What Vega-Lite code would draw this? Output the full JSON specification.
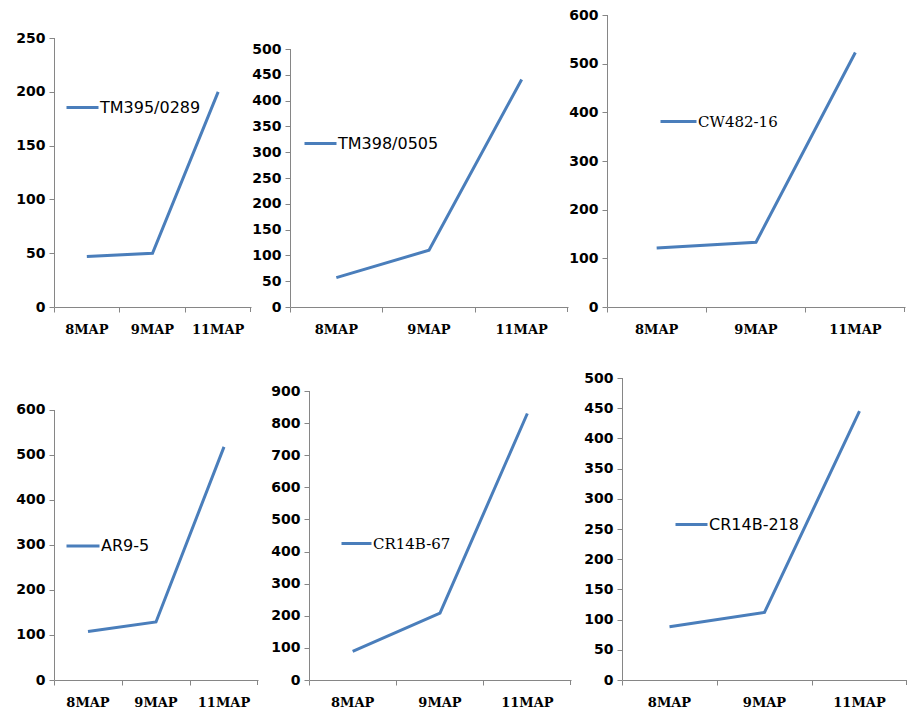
{
  "$schema": "https://vega.github.io/schema/vega-lite/v6.json",
  "padding": {"left": 15, "top": 8, "right": 0, "bottom": 0},
  "background": "#ffffff",
  "data": {"values": [
    {"clone": "TM395/0289", "stage": "8MAP", "value": 47},
    {"clone": "TM395/0289", "stage": "9MAP", "value": 50},
    {"clone": "TM395/0289", "stage": "11MAP", "value": 200},
    {"clone": "TM398/0505", "stage": "8MAP", "value": 57},
    {"clone": "TM398/0505", "stage": "9MAP", "value": 110},
    {"clone": "TM398/0505", "stage": "11MAP", "value": 441},
    {"clone": "CW482-16", "stage": "8MAP", "value": 121},
    {"clone": "CW482-16", "stage": "9MAP", "value": 133},
    {"clone": "CW482-16", "stage": "11MAP", "value": 523},
    {"clone": "AR9-5", "stage": "8MAP", "value": 108},
    {"clone": "AR9-5", "stage": "9MAP", "value": 129},
    {"clone": "AR9-5", "stage": "11MAP", "value": 518},
    {"clone": "CR14B-67", "stage": "8MAP", "value": 89},
    {"clone": "CR14B-67", "stage": "9MAP", "value": 208},
    {"clone": "CR14B-67", "stage": "11MAP", "value": 830},
    {"clone": "CR14B-218", "stage": "8MAP", "value": 88},
    {"clone": "CR14B-218", "stage": "9MAP", "value": 112},
    {"clone": "CR14B-218", "stage": "11MAP", "value": 445}
  ]},
  "spacing": 35,
  "resolve": {"scale": {"x": "independent", "y": "independent", "color": "independent"}, "legend": {"color": "independent"}, "axis": {"x": "independent", "y": "independent"}},
  "vconcat": [
    {
      "spacing": 0,
      "resolve": {"scale": {"x": "independent", "y": "independent", "color": "independent"}, "legend": {"color": "independent"}, "axis": {"x": "independent", "y": "independent"}},
      "hconcat": [
        {
          "width": 197, "height": 292,
          "transform": [{"filter": {"field": "clone", "equal": "TM395/0289"}}],
          "layer": [
            {
              "mark": {"type": "line", "strokeWidth": 3},
              "encoding": {
                "x": {"field": "stage", "type": "nominal", "sort": ["8MAP", "9MAP", "11MAP"], "scale": {"paddingInner": 0, "paddingOuter": 0}, "axis": {"title": null, "bandPosition": 0}},
                "y": {"field": "value", "type": "quantitative", "scale": {"domain": [0, 271.4], "nice": false}, "axis": {"title": null, "domain": false, "values": [0, 50, 100, 150, 200, 250]}},
                "color": {"field": "clone", "type": "nominal", "scale": {"range": ["#4A7EBB"]}, "legend": {"orient": "none", "legendX": 11, "legendY": 75, "title": null, "padding": 0, "symbolType": "stroke", "symbolSize": 1024, "symbolStrokeWidth": 3, "labelFont": "DejaVu Sans", "labelFontSize": 16, "labelOffset": 0, "labelColor": "#000000"}}
              }
            },
            {
              "transform": [{"filter": {"field": "stage", "equal": "8MAP"}}],
              "mark": {"type": "rule", "color": "#868686", "strokeWidth": 1, "xOffset": 0.5},
              "encoding": {
                "x": {"field": "stage", "type": "nominal", "sort": ["8MAP", "9MAP", "11MAP"], "bandPosition": 0, "axis": {"title": null, "bandPosition": 0}},
                "y": {"datum": 0, "type": "quantitative", "axis": {"title": null, "domain": false, "values": [0, 50, 100, 150, 200, 250]}},
                "y2": {"datum": 250}
              }
            },
            {
              "transform": [{"filter": {"field": "stage", "equal": "11MAP"}}],
              "mark": {"type": "rule", "color": "#868686", "strokeWidth": 1, "xOffset": -0.5, "y2Offset": 5},
              "encoding": {
                "x": {"field": "stage", "type": "nominal", "sort": ["8MAP", "9MAP", "11MAP"], "bandPosition": 1, "axis": {"title": null, "bandPosition": 0}},
                "y": {"datum": 0, "type": "quantitative", "axis": {"title": null, "domain": false, "values": [0, 50, 100, 150, 200, 250]}},
                "y2": {"datum": 0}
              }
            }
          ]
        },
        {
          "width": 278, "height": 292,
          "transform": [{"filter": {"field": "clone", "equal": "TM398/0505"}}],
          "layer": [
            {
              "mark": {"type": "line", "strokeWidth": 3},
              "encoding": {
                "x": {"field": "stage", "type": "nominal", "sort": ["8MAP", "9MAP", "11MAP"], "scale": {"paddingInner": 0, "paddingOuter": 0}, "axis": {"title": null, "bandPosition": 0}},
                "y": {"field": "value", "type": "quantitative", "scale": {"domain": [0, 565.9], "nice": false}, "axis": {"title": null, "domain": false, "values": [0, 50, 100, 150, 200, 250, 300, 350, 400, 450, 500]}},
                "color": {"field": "clone", "type": "nominal", "scale": {"range": ["#4A7EBB"]}, "legend": {"orient": "none", "legendX": 13, "legendY": 111, "title": null, "padding": 0, "symbolType": "stroke", "symbolSize": 1024, "symbolStrokeWidth": 3, "labelFont": "DejaVu Sans", "labelFontSize": 16, "labelOffset": 0, "labelColor": "#000000"}}
              }
            },
            {
              "transform": [{"filter": {"field": "stage", "equal": "8MAP"}}],
              "mark": {"type": "rule", "color": "#868686", "strokeWidth": 1, "xOffset": 0.5},
              "encoding": {
                "x": {"field": "stage", "type": "nominal", "sort": ["8MAP", "9MAP", "11MAP"], "bandPosition": 0, "axis": {"title": null, "bandPosition": 0}},
                "y": {"datum": 0, "type": "quantitative", "axis": {"title": null, "domain": false, "values": [0, 50, 100, 150, 200, 250, 300, 350, 400, 450, 500]}},
                "y2": {"datum": 500}
              }
            },
            {
              "transform": [{"filter": {"field": "stage", "equal": "11MAP"}}],
              "mark": {"type": "rule", "color": "#868686", "strokeWidth": 1, "xOffset": -0.5, "y2Offset": 5},
              "encoding": {
                "x": {"field": "stage", "type": "nominal", "sort": ["8MAP", "9MAP", "11MAP"], "bandPosition": 1, "axis": {"title": null, "bandPosition": 0}},
                "y": {"datum": 0, "type": "quantitative", "axis": {"title": null, "domain": false, "values": [0, 50, 100, 150, 200, 250, 300, 350, 400, 450, 500]}},
                "y2": {"datum": 0}
              }
            }
          ]
        },
        {
          "width": 298, "height": 292,
          "transform": [{"filter": {"field": "clone", "equal": "CW482-16"}}],
          "layer": [
            {
              "mark": {"type": "line", "strokeWidth": 3},
              "encoding": {
                "x": {"field": "stage", "type": "nominal", "sort": ["8MAP", "9MAP", "11MAP"], "scale": {"paddingInner": 0, "paddingOuter": 0}, "axis": {"title": null, "bandPosition": 0}},
                "y": {"field": "value", "type": "quantitative", "scale": {"domain": [0, 600], "nice": false}, "axis": {"title": null, "domain": false, "values": [0, 100, 200, 300, 400, 500, 600]}},
                "color": {"field": "clone", "type": "nominal", "scale": {"range": ["#4A7EBB"]}, "legend": {"orient": "none", "legendX": 52, "legendY": 87, "title": null, "padding": 0, "symbolType": "stroke", "symbolSize": 1296, "symbolStrokeWidth": 3, "labelFont": "DejaVu Serif", "labelFontSize": 15, "labelOffset": 0, "labelColor": "#000000"}}
              }
            },
            {
              "transform": [{"filter": {"field": "stage", "equal": "8MAP"}}],
              "mark": {"type": "rule", "color": "#868686", "strokeWidth": 1, "xOffset": 0.5},
              "encoding": {
                "x": {"field": "stage", "type": "nominal", "sort": ["8MAP", "9MAP", "11MAP"], "bandPosition": 0, "axis": {"title": null, "bandPosition": 0}},
                "y": {"datum": 0, "type": "quantitative", "axis": {"title": null, "domain": false, "values": [0, 100, 200, 300, 400, 500, 600]}},
                "y2": {"datum": 600}
              }
            },
            {
              "transform": [{"filter": {"field": "stage", "equal": "11MAP"}}],
              "mark": {"type": "rule", "color": "#868686", "strokeWidth": 1, "xOffset": -0.5, "y2Offset": 5},
              "encoding": {
                "x": {"field": "stage", "type": "nominal", "sort": ["8MAP", "9MAP", "11MAP"], "bandPosition": 1, "axis": {"title": null, "bandPosition": 0}},
                "y": {"datum": 0, "type": "quantitative", "axis": {"title": null, "domain": false, "values": [0, 100, 200, 300, 400, 500, 600]}},
                "y2": {"datum": 0}
              }
            }
          ]
        }
      ]
    },
    {
      "spacing": 12,
      "resolve": {"scale": {"x": "independent", "y": "independent", "color": "independent"}, "legend": {"color": "independent"}, "axis": {"x": "independent", "y": "independent"}},
      "hconcat": [
        {
          "width": 204, "height": 302,
          "transform": [{"filter": {"field": "clone", "equal": "AR9-5"}}],
          "layer": [
            {
              "mark": {"type": "line", "strokeWidth": 3},
              "encoding": {
                "x": {"field": "stage", "type": "nominal", "sort": ["8MAP", "9MAP", "11MAP"], "scale": {"paddingInner": 0, "paddingOuter": 0}, "axis": {"title": null, "bandPosition": 0}},
                "y": {"field": "value", "type": "quantitative", "scale": {"domain": [0, 671.1], "nice": false}, "axis": {"title": null, "domain": false, "values": [0, 100, 200, 300, 400, 500, 600]}},
                "color": {"field": "clone", "type": "nominal", "scale": {"range": ["#4A7EBB"]}, "legend": {"orient": "none", "legendX": 11, "legendY": 150, "title": null, "padding": 0, "symbolType": "stroke", "symbolSize": 1089, "symbolStrokeWidth": 3, "labelFont": "DejaVu Sans", "labelFontSize": 16, "labelOffset": 0, "labelColor": "#000000"}}
              }
            },
            {
              "transform": [{"filter": {"field": "stage", "equal": "8MAP"}}],
              "mark": {"type": "rule", "color": "#868686", "strokeWidth": 1, "xOffset": 0.5},
              "encoding": {
                "x": {"field": "stage", "type": "nominal", "sort": ["8MAP", "9MAP", "11MAP"], "bandPosition": 0, "axis": {"title": null, "bandPosition": 0}},
                "y": {"datum": 0, "type": "quantitative", "axis": {"title": null, "domain": false, "values": [0, 100, 200, 300, 400, 500, 600]}},
                "y2": {"datum": 600}
              }
            },
            {
              "transform": [{"filter": {"field": "stage", "equal": "11MAP"}}],
              "mark": {"type": "rule", "color": "#868686", "strokeWidth": 1, "xOffset": -0.5, "y2Offset": 5},
              "encoding": {
                "x": {"field": "stage", "type": "nominal", "sort": ["8MAP", "9MAP", "11MAP"], "bandPosition": 1, "axis": {"title": null, "bandPosition": 0}},
                "y": {"datum": 0, "type": "quantitative", "axis": {"title": null, "domain": false, "values": [0, 100, 200, 300, 400, 500, 600]}},
                "y2": {"datum": 0}
              }
            }
          ]
        },
        {
          "width": 262, "height": 302,
          "transform": [{"filter": {"field": "clone", "equal": "CR14B-67"}}],
          "layer": [
            {
              "mark": {"type": "line", "strokeWidth": 3},
              "encoding": {
                "x": {"field": "stage", "type": "nominal", "sort": ["8MAP", "9MAP", "11MAP"], "scale": {"paddingInner": 0, "paddingOuter": 0}, "axis": {"title": null, "bandPosition": 0}},
                "y": {"field": "value", "type": "quantitative", "scale": {"domain": [0, 940.5], "nice": false}, "axis": {"title": null, "domain": false, "values": [0, 100, 200, 300, 400, 500, 600, 700, 800, 900]}},
                "color": {"field": "clone", "type": "nominal", "scale": {"range": ["#4A7EBB"]}, "legend": {"orient": "none", "legendX": 31, "legendY": 149, "title": null, "padding": 0, "symbolType": "stroke", "symbolSize": 900, "symbolStrokeWidth": 3, "labelFont": "DejaVu Serif", "labelFontSize": 15, "labelOffset": 0, "labelColor": "#000000"}}
              }
            },
            {
              "transform": [{"filter": {"field": "stage", "equal": "8MAP"}}],
              "mark": {"type": "rule", "color": "#868686", "strokeWidth": 1, "xOffset": 0.5},
              "encoding": {
                "x": {"field": "stage", "type": "nominal", "sort": ["8MAP", "9MAP", "11MAP"], "bandPosition": 0, "axis": {"title": null, "bandPosition": 0}},
                "y": {"datum": 0, "type": "quantitative", "axis": {"title": null, "domain": false, "values": [0, 100, 200, 300, 400, 500, 600, 700, 800, 900]}},
                "y2": {"datum": 900}
              }
            },
            {
              "transform": [{"filter": {"field": "stage", "equal": "11MAP"}}],
              "mark": {"type": "rule", "color": "#868686", "strokeWidth": 1, "xOffset": -0.5, "y2Offset": 5},
              "encoding": {
                "x": {"field": "stage", "type": "nominal", "sort": ["8MAP", "9MAP", "11MAP"], "bandPosition": 1, "axis": {"title": null, "bandPosition": 0}},
                "y": {"datum": 0, "type": "quantitative", "axis": {"title": null, "domain": false, "values": [0, 100, 200, 300, 400, 500, 600, 700, 800, 900]}},
                "y2": {"datum": 0}
              }
            }
          ]
        },
        {
          "width": 285, "height": 302,
          "transform": [{"filter": {"field": "clone", "equal": "CR14B-218"}}],
          "layer": [
            {
              "mark": {"type": "line", "strokeWidth": 3},
              "encoding": {
                "x": {"field": "stage", "type": "nominal", "sort": ["8MAP", "9MAP", "11MAP"], "scale": {"paddingInner": 0, "paddingOuter": 0}, "axis": {"title": null, "bandPosition": 0}},
                "y": {"field": "value", "type": "quantitative", "scale": {"domain": [0, 500], "nice": false}, "axis": {"title": null, "domain": false, "values": [0, 50, 100, 150, 200, 250, 300, 350, 400, 450, 500]}},
                "color": {"field": "clone", "type": "nominal", "scale": {"range": ["#4A7EBB"]}, "legend": {"orient": "none", "legendX": 52, "legendY": 129, "title": null, "padding": 0, "symbolType": "stroke", "symbolSize": 1024, "symbolStrokeWidth": 3, "labelFont": "DejaVu Sans", "labelFontSize": 16, "labelOffset": 0, "labelColor": "#000000"}}
              }
            },
            {
              "transform": [{"filter": {"field": "stage", "equal": "8MAP"}}],
              "mark": {"type": "rule", "color": "#868686", "strokeWidth": 1, "xOffset": 0.5},
              "encoding": {
                "x": {"field": "stage", "type": "nominal", "sort": ["8MAP", "9MAP", "11MAP"], "bandPosition": 0, "axis": {"title": null, "bandPosition": 0}},
                "y": {"datum": 0, "type": "quantitative", "axis": {"title": null, "domain": false, "values": [0, 50, 100, 150, 200, 250, 300, 350, 400, 450, 500]}},
                "y2": {"datum": 500}
              }
            },
            {
              "transform": [{"filter": {"field": "stage", "equal": "11MAP"}}],
              "mark": {"type": "rule", "color": "#868686", "strokeWidth": 1, "xOffset": -0.5, "y2Offset": 5},
              "encoding": {
                "x": {"field": "stage", "type": "nominal", "sort": ["8MAP", "9MAP", "11MAP"], "bandPosition": 1, "axis": {"title": null, "bandPosition": 0}},
                "y": {"datum": 0, "type": "quantitative", "axis": {"title": null, "domain": false, "values": [0, 50, 100, 150, 200, 250, 300, 350, 400, 450, 500]}},
                "y2": {"datum": 0}
              }
            }
          ]
        }
      ]
    }
  ],
  "config": {
    "view": {"stroke": null},
    "axis": {"domainColor": "#868686", "tickColor": "#868686", "tickSize": 5, "grid": false, "labelColor": "#000000"},
    "axisY": {"labelFont": "DejaVu Sans", "labelFontWeight": "bold", "labelFontSize": 14, "labelPadding": 4},
    "axisX": {"labelFont": "DejaVu Serif", "labelFontWeight": "bold", "labelFontSize": 13, "labelPadding": 11, "labelAngle": 0}
  }
}
